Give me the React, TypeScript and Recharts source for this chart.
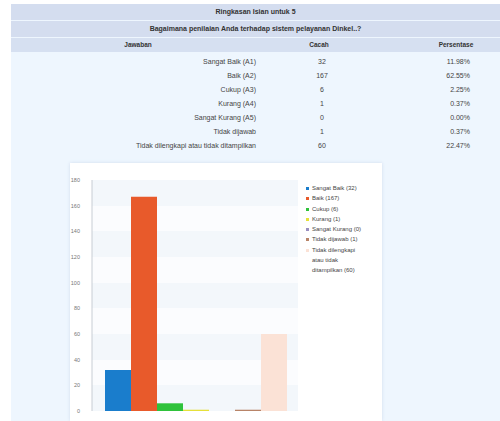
import React from 'react';
import { BarChart, Bar, XAxis, YAxis, CartesianGrid, Legend } from 'recharts';

const categories = ['Sangat Baik (A1)', 'Baik (A2)', 'Cukup (A3)', 'Kurang (A4)', 'Sangat Kurang (A5)', 'Tidak dijawab', 'Tidak dilengkapi atau tidak ditampilkan'];
const legendNames = ['Sangat Baik (32)', 'Baik (167)', 'Cukup (6)', 'Kurang (1)', 'Sangat Kurang (0)', 'Tidak dijawab (1)', 'Tidak dilengkapi atau tidak ditampilkan (60)'];
const counts = [32, 167, 6, 1, 0, 1, 60];
const percents = ['11.98%', '62.55%', '2.25%', '0.37%', '0.00%', '0.37%', '22.47%'];
const colors = ['#1a7dcc', '#e85a2b', '#2fc23b', '#e6e03a', '#9a8fc0', '#b88468', '#fbe2d6'];
const yTicks = [0, 20, 40, 60, 80, 100, 120, 140, 160, 180];

const title1 = 'Ringkasan Isian untuk 5';
const title2 = 'Bagaimana penilaian Anda terhadap sistem pelayanan Dinkel..?';
const headers = ['Jawaban', 'Cacah', 'Persentase'];

const row: Record<string, number | string> = { name: 'q5' };
counts.forEach((c, i) => { row['s' + i] = c; });
const chartData = [row];

const font = '"Liberation Sans", Arial, sans-serif';

function LegendContent() {
  return (
    <div style={{ width: 58, fontFamily: font, fontSize: 6, color: '#444', lineHeight: '10.3px' }}>
      {legendNames.map((n, i) => (
        <div key={i} style={{ display: 'flex', alignItems: 'flex-start' }}>
          <span style={{ display: 'inline-block', width: 3, height: 3, background: colors[i], marginTop: 4, marginRight: 3, flex: '0 0 auto' }} />
          <span>{n}</span>
        </div>
      ))}
    </div>
  );
}

export default function App() {
  return (
    <div style={{ position: 'absolute', left: 0, top: 0, width: 500, height: 421, background: '#ffffff', overflow: 'hidden', fontFamily: font }}>
      <div style={{ position: 'absolute', left: 11, top: 4, width: 489, height: 417, background: '#eef6fe' }} />
      <div style={{ position: 'absolute', left: 11, top: 4, width: 489, height: 16, background: '#d4ddef', fontSize: 7, fontWeight: 'bold', color: '#333', textAlign: 'center', lineHeight: '16px' }}>{title1}</div>
      <div style={{ position: 'absolute', left: 11, top: 21, width: 489, height: 16, background: '#d4ddef', fontSize: 7, fontWeight: 'bold', color: '#333', textAlign: 'center', lineHeight: '16px' }}>{title2}</div>
      <div style={{ position: 'absolute', left: 11, top: 38, width: 489, height: 14, background: '#d6e0f1', fontSize: 6.5, fontWeight: 'bold', color: '#333', lineHeight: '14px' }}>
        <span style={{ position: 'absolute', left: 107, width: 40, textAlign: 'center' }}>{headers[0]}</span>
        <span style={{ position: 'absolute', left: 288, width: 40, textAlign: 'center' }}>{headers[1]}</span>
        <span style={{ position: 'absolute', left: 420, width: 50, textAlign: 'center' }}>{headers[2]}</span>
      </div>
      {categories.map((c, i) => (
        <div key={i} style={{ position: 'absolute', left: 11, top: 56 + i * 14, width: 489, height: 12, fontSize: 7, color: '#444', lineHeight: '12px' }}>
          <span style={{ position: 'absolute', right: 489 - 245, textAlign: 'right', whiteSpace: 'nowrap' }}>{c}</span>
          <span style={{ position: 'absolute', left: 291, width: 40, textAlign: 'center' }}>{counts[i]}</span>
          <span style={{ position: 'absolute', right: 489 - 459, textAlign: 'right' }}>{percents[i]}</span>
        </div>
      ))}
      <div style={{ position: 'absolute', left: 70, top: 163, width: 312, height: 258, background: '#ffffff', boxShadow: '0 0 3px rgba(200,215,235,0.8)' }}>
        <BarChart width={312} height={258} data={chartData} margin={{ top: 17, right: 24, left: 0, bottom: 10 }} barGap={0} barCategoryGap={13}>
          <CartesianGrid vertical={false} stroke="none" horizontalFill={['#f3f7fb', '#fbfcfe']} />
          <XAxis dataKey="name" tick={false} tickLine={false} height={0} axisLine={{ stroke: '#c8cdd4' }} />
          <YAxis domain={[0, 180]} ticks={yTicks} width={22} tickLine={false} axisLine={{ stroke: '#c8cdd4' }} tick={{ fontSize: 5.5, fill: '#777', fontFamily: font }} tickMargin={6} interval={0} />
          <Legend layout="vertical" align="right" verticalAlign="top" content={<LegendContent />} wrapperStyle={{ left: 236, top: 20, width: 60 }} />
          {counts.map((_, i) => (
            <Bar key={i} dataKey={'s' + i} name={legendNames[i]} fill={colors[i]} isAnimationActive={false} />
          ))}
        </BarChart>
      </div>
    </div>
  );
}
